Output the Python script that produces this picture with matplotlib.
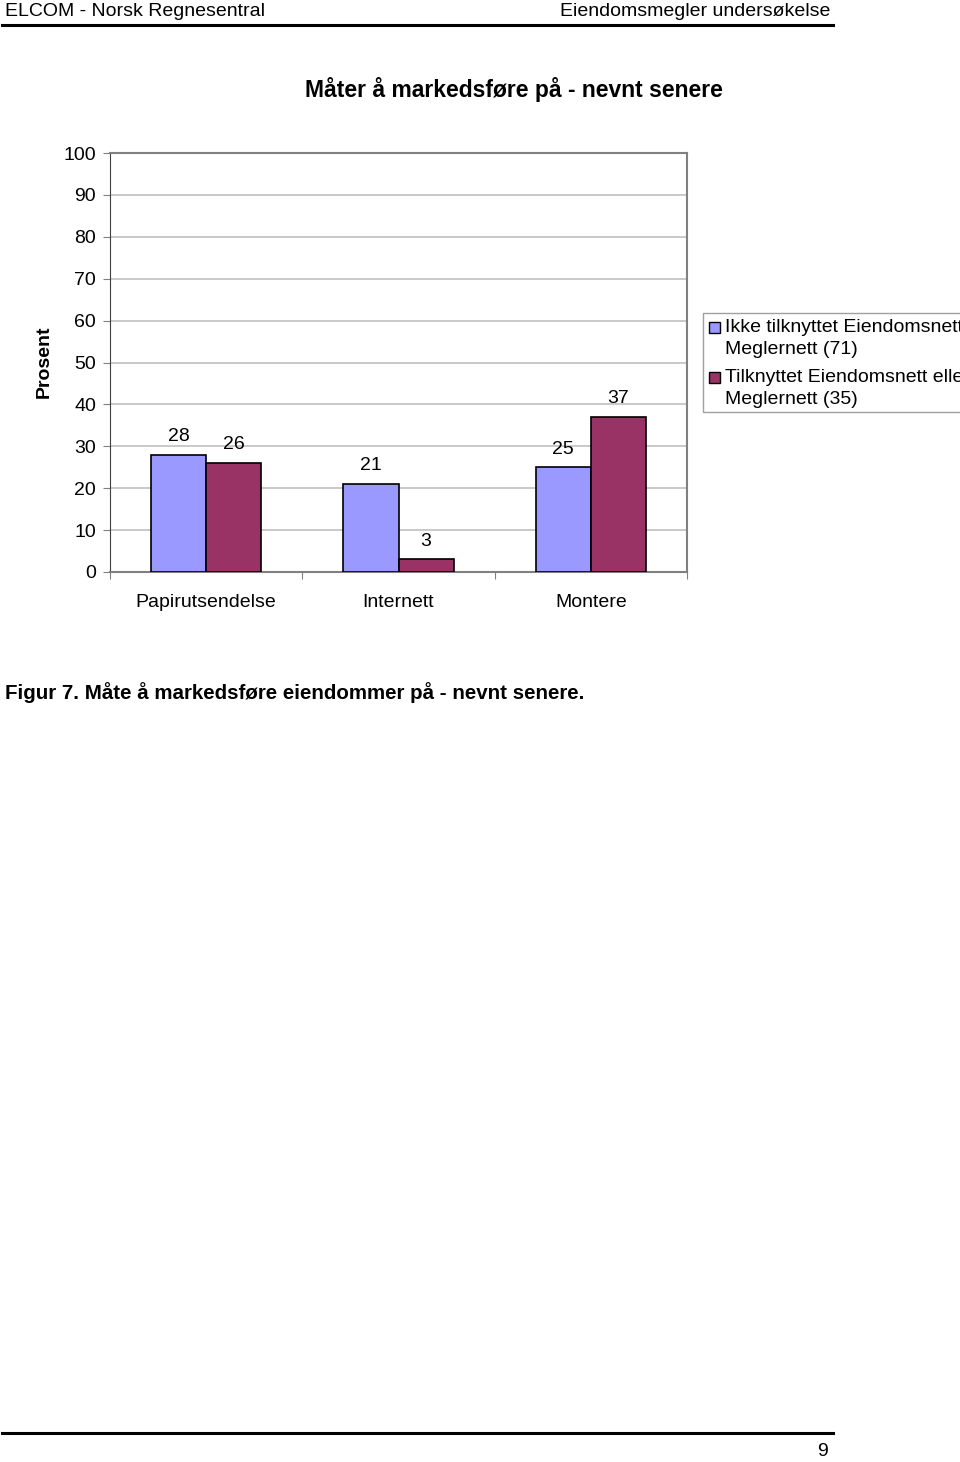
import matplotlib
matplotlib.use('Agg')
import matplotlib.pyplot as plt
import numpy as np
from matplotlib.patches import Rectangle

plt.rcParams['font.family'] = ['Liberation Sans', 'DejaVu Sans']

categories = ['Papirutsendelse', 'Internett', 'Montere']
ikke_tilknyttet = [28, 21, 25]
tilknyttet = [26, 3, 37]
series_names = [['Ikke tilknyttet Eiendomsnett eller', 'Meglernett (71)'],
                ['Tilknyttet Eiendomsnett eller', 'Meglernett (35)']]
colors = ['#9999FF', '#993366']

W, H = 960, 1462
fig = plt.figure(figsize=(W / 100, H / 100), dpi=100)

def fx(px):
    return px / W

def fy(py):
    return 1 - py / H

# page header / footer
fig.text(fx(5), fy(11), 'ELCOM - Norsk Regnesentral', fontsize=14, va='center', ha='left')
fig.text(fx(830), fy(11), 'Eiendomsmegler undersøkelse', fontsize=14, va='center', ha='right')
fig.add_artist(plt.Line2D([fx(2), fx(833)], [fy(25), fy(25)], color='black', lw=2.2))
fig.add_artist(plt.Line2D([fx(2), fx(833)], [fy(1433), fy(1433)], color='black', lw=2.2))
fig.text(fx(828), fy(1451), '9', fontsize=14, va='center', ha='right')

fig.text(fx(514), fy(90), 'Måter å markedsføre på - nevnt senere', fontsize=16.5,
         fontweight='bold', ha='center', va='center')
fig.text(fx(44), fy(362), 'Prosent', fontsize=14, fontweight='bold', rotation=90,
         ha='center', va='center')
fig.text(fx(5), fy(693), 'Figur 7. Måte å markedsføre eiendommer på - nevnt senere.',
         fontsize=14.8, fontweight='bold', ha='left', va='center')

ax = fig.add_axes([fx(110), fy(572), fx(687) - fx(110), fy(153) - fy(572)])
x = np.arange(len(categories))
bw = 0.286
b1 = ax.bar(x - bw / 2, ikke_tilknyttet, bw, color=colors[0], edgecolor='black', lw=1.2, zorder=3)
b2 = ax.bar(x + bw / 2, tilknyttet, bw, color=colors[1], edgecolor='black', lw=1.2, zorder=3)
for bars in (b1, b2):
    for r in bars:
        ax.annotate(f'{r.get_height():g}', (r.get_x() + r.get_width() / 2, r.get_height()),
                    xytext=(0, 7), textcoords='offset points', ha='center', va='bottom',
                    fontsize=14)

ax.set_xlim(-0.5, 2.5)
ax.set_ylim(0, 100)
ax.set_yticks(range(0, 101, 10))
ax.yaxis.grid(True, color='#c0c0c0', lw=1.2, zorder=0)
ax.set_axisbelow(True)
ax.set_xticks([-0.5, 0.5, 1.5, 2.5])
ax.set_xticklabels([])
ax.set_xticks(x, minor=True)
ax.set_xticklabels(categories, minor=True, fontsize=14)
ax.tick_params(axis='x', which='minor', length=0, pad=16)
ax.tick_params(axis='x', which='major', length=5, color='#808080')
ax.tick_params(axis='y', length=5, color='#808080', labelsize=14, pad=5)
for s in ('top', 'right'):
    ax.spines[s].set_color('#808080')
    ax.spines[s].set_linewidth(1.5)
ax.spines['left'].set_color('#404040')
ax.spines['bottom'].set_color('#808080')
ax.spines['bottom'].set_linewidth(1.5)

# legend box (cut by the page edge as in the original)
fig.add_artist(Rectangle((fx(703), fy(412)), fx(300), fy(313) - fy(412),
                         transform=fig.transFigure, facecolor='white',
                         edgecolor='#a0a0a0', lw=1.0))
for i, (lines, c) in enumerate(zip(series_names, colors)):
    y0 = 327 + i * 50
    fig.add_artist(Rectangle((fx(709), fy(y0 + 5.5)), fx(11), fy(y0 - 5.5) - fy(y0 + 5.5),
                             transform=fig.transFigure, facecolor=c,
                             edgecolor='black', lw=1.0))
    for j, line in enumerate(lines):
        fig.text(fx(725), fy(y0 + j * 23), line, fontsize=14, ha='left', va='center')

fig.savefig('out.png', dpi=100)
